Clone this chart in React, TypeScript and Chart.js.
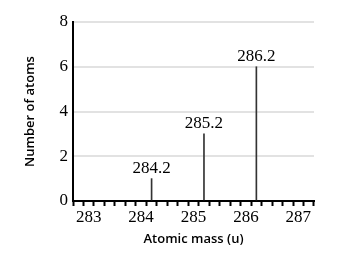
import React, { useEffect, useRef } from "react";
import { Chart, registerables } from "chart.js";
Chart.register(...registerables);

const masses = [284.2, 285.2, 286.2];
const counts = [1, 3, 6];
const peakLabels = ["284.2", "285.2", "286.2"];
const xMin = 282.8;
const xMax = 287.2;
const yMax = 8;

const serif = "'Liberation Serif', serif";
const sans = "'Open Sans', sans-serif";

const peakLabelPlugin = {
  id: "peakLabels",
  afterDatasetsDraw(chart: any) {
    const ctx = chart.ctx;
    const xs = chart.scales.x;
    const ys = chart.scales.y;
    ctx.save();
    ctx.font = `17px ${serif}`;
    ctx.fillStyle = "#000";
    ctx.textAlign = "center";
    ctx.textBaseline = "bottom";
    masses.forEach((m, i) => {
      ctx.fillText(peakLabels[i], xs.getPixelForValue(m), ys.getPixelForValue(counts[i]) - 2);
    });
    ctx.restore();
  },
};

export default function App() {
  const ref = useRef<HTMLCanvasElement>(null);
  useEffect(() => {
    const chart = new Chart(ref.current!, {
      type: "bar",
      data: {
        datasets: [
          {
            data: masses.map((m, i) => ({ x: m, y: counts[i] })),
            backgroundColor: "#333",
            barThickness: 1,
          },
        ],
      },
      options: {
        animation: false,
        responsive: false,
        maintainAspectRatio: false,
        layout: { padding: { left: 22, top: 22, right: 38, bottom: 9 } },
        plugins: { legend: { display: false }, tooltip: { enabled: false } },
        scales: {
          x: {
            type: "linear",
            min: xMin,
            max: xMax,
            afterFit: (s: any) => { s.height = 46; },
            border: { display: true, color: "#000", width: 2 },
            grid: {
              drawOnChartArea: false,
              drawTicks: true,
              tickLength: 5,
              tickColor: "#000",
              tickWidth: 2,
            },
            ticks: {
              stepSize: 0.2,
              autoSkip: false,
              maxRotation: 0,
              padding: 1,
              color: "#000",
              font: { family: serif, size: 17 },
              callback: (v: any) => {
                const n = Number(v);
                return Math.abs(n - Math.round(n)) < 1e-6 ? String(Math.round(n)) : "";
              },
            },
            title: {
              display: true,
              text: "Atomic mass (u)",
              color: "#000",
              font: { family: sans, size: 13, weight: "600" },
              padding: { top: 2, bottom: 0 },
            },
          },
          y: {
            min: 0,
            max: yMax,
            afterFit: (s: any) => { s.width = 51; },
            border: { display: true, color: "#000", width: 2 },
            grid: {
              drawTicks: false,
              color: (c: any) => (c.tick && c.tick.value % 2 === 0 ? "#e2e2e2" : "#cccccc"),
              lineWidth: (c: any) => (c.tick && c.tick.value % 2 === 0 ? 2 : 1),
            },
            ticks: {
              stepSize: 1,
              padding: 5,
              color: "#000",
              font: { family: serif, size: 17 },
              callback: (v: any) => (Number(v) % 2 === 0 ? String(v) : ""),
            },
            title: {
              display: true,
              text: "Number of atoms",
              color: "#000",
              font: { family: sans, size: 13, weight: "600" },
              padding: { top: 0, bottom: 0 },
            },
          },
        },
      },
      plugins: [peakLabelPlugin],
    } as any);
    return () => chart.destroy();
  }, []);
  return (
    <div style={{ position: "fixed", left: 0, top: 0, width: 352, height: 256 }}>
      <canvas ref={ref} width={352} height={256} style={{ width: 352, height: 256 }} />
    </div>
  );
}
